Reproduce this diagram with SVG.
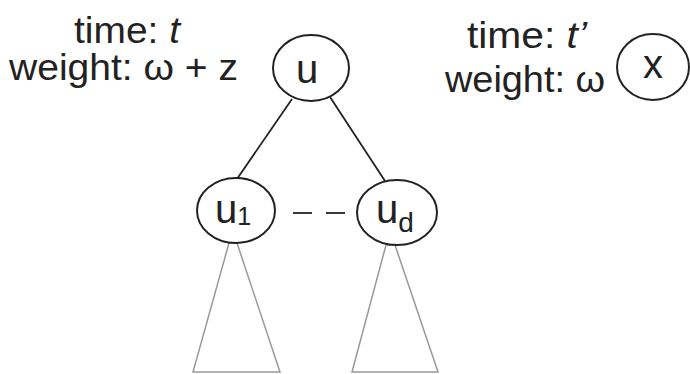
<svg xmlns="http://www.w3.org/2000/svg" width="690" height="374" viewBox="0 0 690 374">
<style>
.t{font-family:"Liberation Sans",Arial,sans-serif;font-size:37px;fill:#222}
.n{font-family:"Liberation Sans",Arial,sans-serif;font-size:40px;fill:#222}
.node{fill:#fff;stroke:#222;stroke-width:2}
.edge{stroke:#222;stroke-width:1.8;fill:none}
.tri{stroke:#999;stroke-width:1.5;fill:none}
</style>
<rect width="690" height="374" fill="#fff"/>
<g id="connectors">
<line class="edge" x1="292" y1="99" x2="237" y2="179"/>
<line class="edge" x1="330" y1="97" x2="385" y2="181"/>
<line class="edge" x1="293" y1="213" x2="312" y2="213"/>
<line class="edge" x1="326" y1="213" x2="345" y2="213"/>
</g>
<g id="subtree1"><polygon class="tri" points="229,243 237,243 280,372 193,372"/></g>
<g id="subtree2"><polygon class="tri" points="386,245 395,245 438,372 352,372"/></g>
<g id="label-u">
<text class="t" x="74" y="43" textLength="106" lengthAdjust="spacingAndGlyphs">time: <tspan font-style="italic">t</tspan></text>
<text class="t" x="9" y="80" textLength="229" lengthAdjust="spacingAndGlyphs">weight: ω + z</text>
</g>
<g id="label-x">
<text class="t" x="467" y="48" textLength="120" lengthAdjust="spacingAndGlyphs">time: <tspan font-style="italic">t’</tspan></text>
<text class="t" x="445" y="92" textLength="160" lengthAdjust="spacingAndGlyphs">weight: ω</text>
</g>
<g id="node-u"><ellipse class="node" cx="311" cy="68" rx="38" ry="33"/><text class="n" x="296" y="83">u</text></g>
<g id="node-x"><ellipse class="node" cx="653" cy="67" rx="36" ry="33"/><text class="n" x="643" y="78">x</text></g>
<g id="node-u1"><ellipse class="node" cx="236" cy="210.5" rx="39" ry="32.5"/><text class="n" x="215" y="223">u<tspan font-size="25" dy="2">1</tspan></text></g>
<g id="node-ud"><ellipse class="node" cx="397" cy="212.5" rx="40" ry="32.5"/><text class="n" x="376" y="223">u<tspan font-size="28" dy="9">d</tspan></text></g>
</svg>
